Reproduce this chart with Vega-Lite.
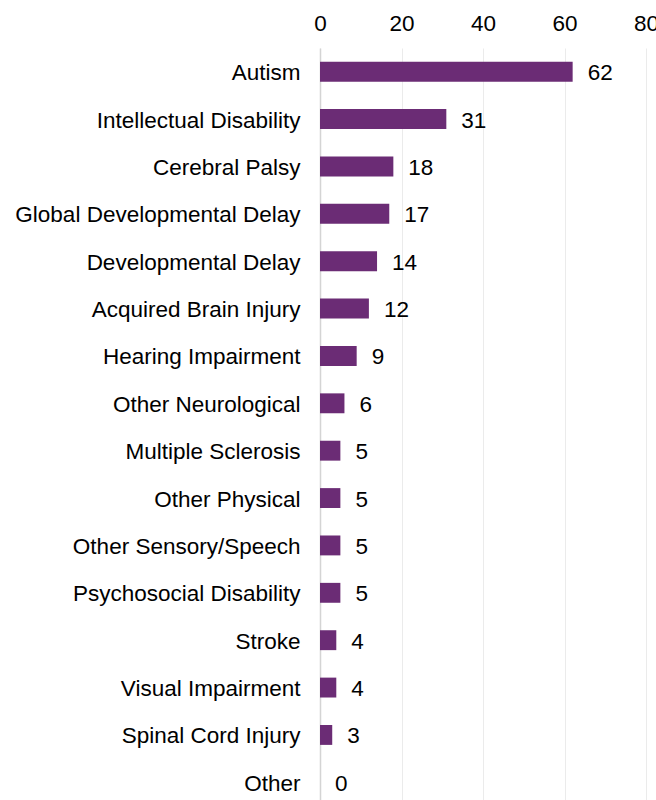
{
  "$schema": "https://vega.github.io/schema/vega-lite/v6.json",
  "autosize": "none",
  "width": 326,
  "height": 758,
  "padding": {"left": 320, "top": 48, "right": 10, "bottom": 0},
  "background": "white",
  "data": {"values": [
    {"category": "Autism", "count": 62},
    {"category": "Intellectual Disability", "count": 31},
    {"category": "Cerebral Palsy", "count": 18},
    {"category": "Global Developmental Delay", "count": 17},
    {"category": "Developmental Delay", "count": 14},
    {"category": "Acquired Brain Injury", "count": 12},
    {"category": "Hearing Impairment", "count": 9},
    {"category": "Other Neurological", "count": 6},
    {"category": "Multiple Sclerosis", "count": 5},
    {"category": "Other Physical", "count": 5},
    {"category": "Other Sensory/Speech", "count": 5},
    {"category": "Psychosocial Disability", "count": 5},
    {"category": "Stroke", "count": 4},
    {"category": "Visual Impairment", "count": 4},
    {"category": "Spinal Cord Injury", "count": 3},
    {"category": "Other", "count": 0}
  ]},
  "encoding": {
    "y": {"field": "category", "type": "nominal", "sort": null,
      "scale": {"paddingInner": 0.58, "paddingOuter": 0.29},
      "axis": {"title": null, "ticks": false, "tickSize": 0, "labelPadding": 20, "labelLimit": 0,
        "labelOffset": 1.5,
        "labelFont": "Liberation Sans", "labelFontSize": 22.5, "labelColor": "#000000",
        "domainColor": "#d4d4d4", "domainWidth": 1.5, "grid": false}},
    "x": {"field": "count", "type": "quantitative",
      "scale": {"domain": [0, 80]},
      "axis": {"orient": "top", "title": null, "values": [0, 20, 40, 60, 80],
        "ticks": false, "tickSize": 0, "domain": false, "labelPadding": 18,
        "labelBaseline": "alphabetic", "labelFlush": false, "labelBound": false,
        "labelFont": "Liberation Sans", "labelFontSize": 22.5, "labelColor": "#000000",
        "grid": true, "gridColor": "#ebebeb", "gridWidth": 1}}
  },
  "layer": [
    {"mark": {"type": "bar", "color": "#6b2c75"}},
    {"mark": {"type": "text", "align": "left", "dx": 15, "dy": 1.5, "font": "Liberation Sans", "fontSize": 22.5, "color": "#000000"},
      "encoding": {"text": {"field": "count", "type": "quantitative"}}}
  ],
  "config": {"view": {"stroke": null}}
}
